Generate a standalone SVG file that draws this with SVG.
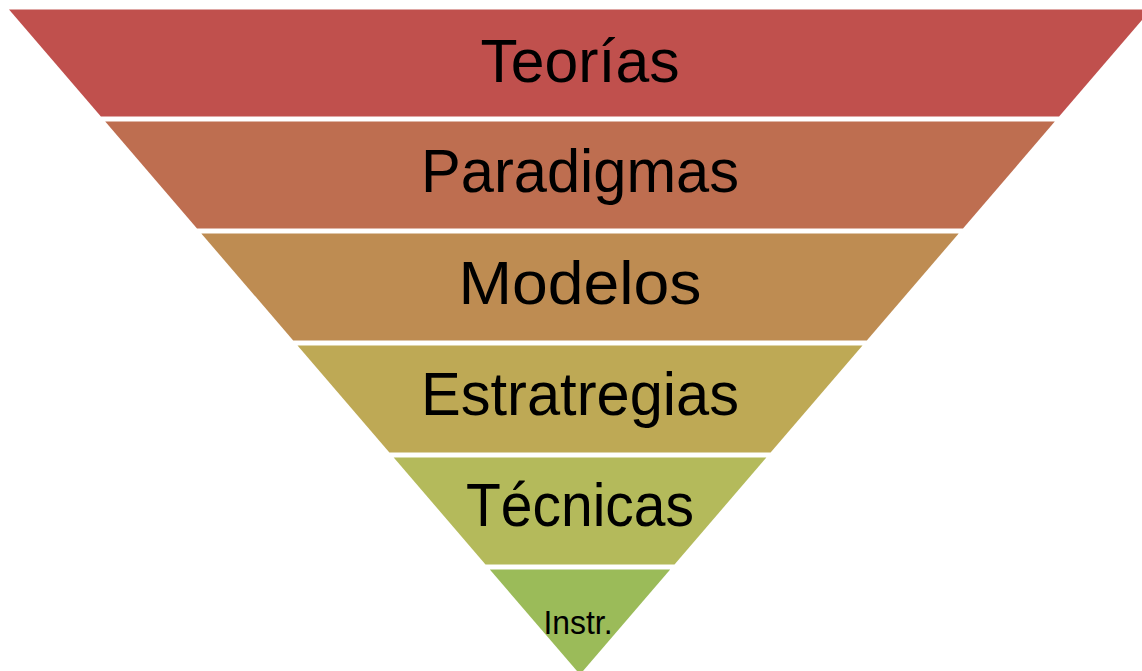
<svg xmlns="http://www.w3.org/2000/svg" width="1142" height="671" viewBox="0 0 1142 671">
<style>
.lbl{font-family:"Liberation Sans",Arial,sans-serif;font-size:62px;fill:#000;text-anchor:middle}
.sm{font-size:33px}
</style>
<rect width="1142" height="671" fill="#fff"/>
<g id="teorias">
<polygon points="9,9.5 1151,9.5 1059.1,116.5 100.9,116.5" fill="#C0504D"/>
<text class="lbl" x="580" y="82" textLength="199" lengthAdjust="spacingAndGlyphs">Teorías</text>
</g>
<g id="paradigmas">
<polygon points="105.2,121.5 1054.8,121.5 963,228.5 197,228.5" fill="#BE6E50"/>
<text class="lbl" x="580" y="192" textLength="318" lengthAdjust="spacingAndGlyphs">Paradigmas</text>
</g>
<g id="modelos">
<polygon points="201.3,233.5 958.7,233.5 866.8,340.5 293.2,340.5" fill="#BE8C52"/>
<text class="lbl" x="580" y="304" textLength="243" lengthAdjust="spacingAndGlyphs">Modelos</text>
</g>
<g id="estrategias">
<polygon points="297.5,345.5 862.5,345.5 770.6,452.5 389.4,452.5" fill="#BEA955"/>
<text class="lbl" x="580" y="415" textLength="318" lengthAdjust="spacingAndGlyphs">Estratregias</text>
</g>
<g id="tecnicas">
<polygon points="393.7,457.5 766.4,457.5 674.5,564.5 485.5,564.5" fill="#B4BA5B"/>
<text class="lbl" x="580" y="526" textLength="228" lengthAdjust="spacingAndGlyphs">Técnicas</text>
</g>
<g id="instr">
<polygon points="489.8,569.5 670.2,569.5 580,674.5" fill="#9BBB59"/>
<text class="lbl sm" x="578" y="634" textLength="69" lengthAdjust="spacingAndGlyphs">Instr.</text>
</g>
<g id="connectors"></g>
</svg>
